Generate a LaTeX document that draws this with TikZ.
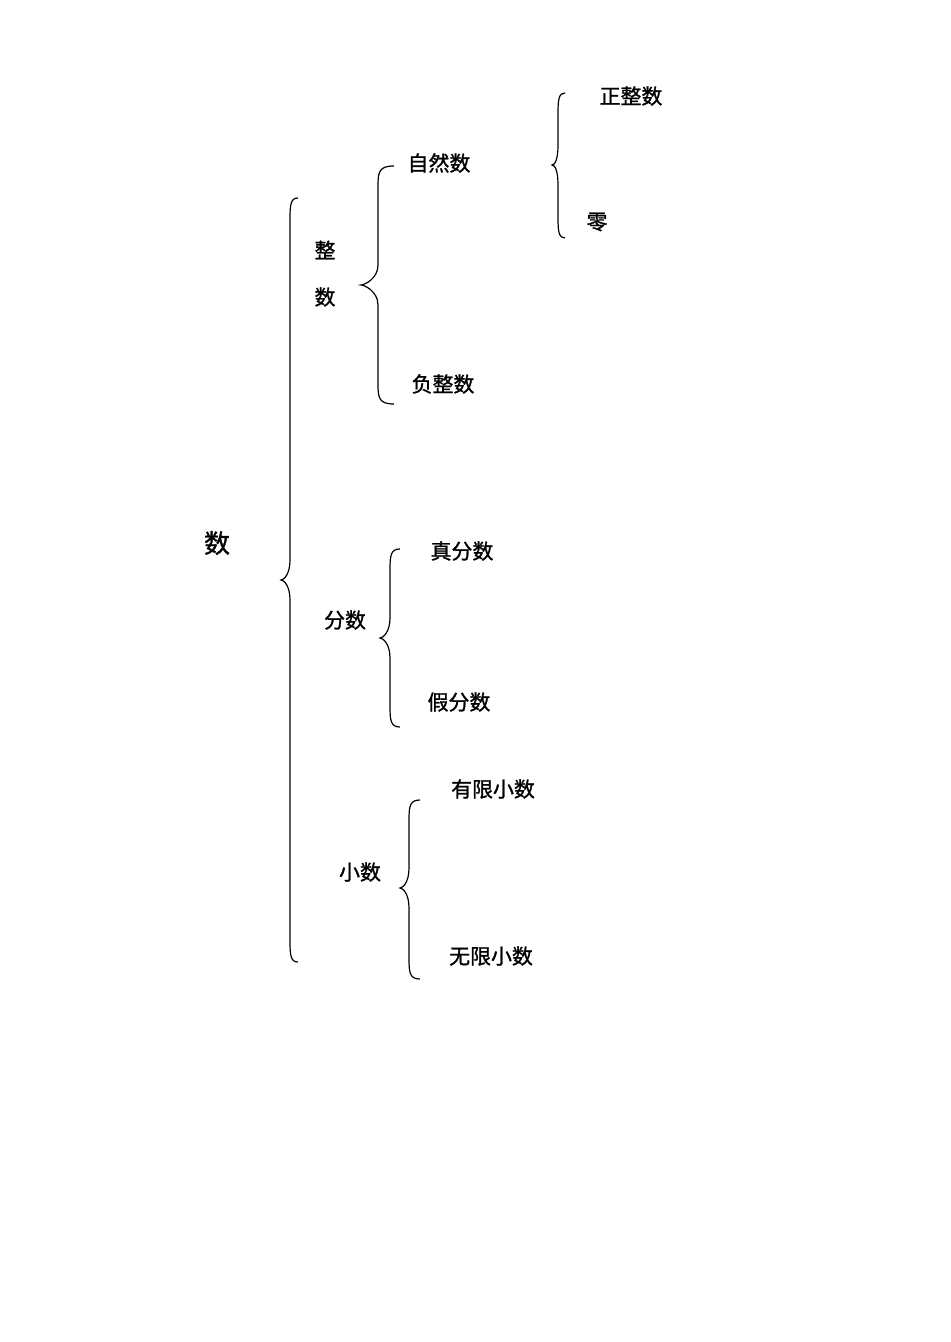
\documentclass[tikz,border=0pt]{standalone}
\usepackage{fontspec}
\newfontfamily\cjk[FakeBold=1.2]{Noto Sans CJK SC}
\tikzset{
  lbl/.style  = {font=\cjk\fontsize{21}{23}\selectfont, inner sep=0pt},
  root/.style = {font=\cjk\fontsize{26}{28}\selectfont, inner sep=0pt},
  brace/.style= {line width=1.2bp}
}
% left brace: #1 = x of the stem, #2 = top y, #3 = tip y, #4 = bottom y,
% #5 = width of the curls, #6 = depth of the tip
\newcommand\leftbrace[6]{%
  \draw[brace] (#1+#5,#2) .. controls (#1+1,#2) and (#1,#2+6) .. (#1,#2+20)
    -- (#1,#3-20) .. controls (#1,#3-6) and (#1-#6+3,#3) .. (#1-#6,#3)
       .. controls (#1-#6+3,#3) and (#1,#3+6) .. (#1,#3+20)
    -- (#1,#4-20) .. controls (#1,#4-6) and (#1+1,#4) .. (#1+#5,#4);}

\begin{document}
\begin{tikzpicture}[x=1bp,y=-1bp]
  \useasboundingbox (0,0) rectangle (950,1342);
  % braces
  \leftbrace{290}{198}{580}{962}{8}{9}
  \leftbrace{378}{166}{285}{404}{16}{17}
  \leftbrace{558}{93}{165}{238}{7}{6}
  \leftbrace{390}{549}{638}{727}{10}{10}
  \leftbrace{409}{800}{888}{979}{11}{9}
  % labels
  \node[root] (shu)     at (217,543) {数};
  \node[lbl]  (zheng)   at (325,250) {整};
  \node[lbl]  (zhengb)  at (325,297) {数};
  \node[lbl]  (ziran)   at (439,163) {自然数};
  \node[lbl]  (fuzheng) at (443,384) {负整数};
  \node[lbl]  (zhengz)  at (631,96)  {正整数};
  \node[lbl]  (ling)    at (597,222) {零};
  \node[lbl]  (fenshu)  at (345,620) {分数};
  \node[lbl]  (zhenfen) at (462,551) {真分数};
  \node[lbl]  (jiafen)  at (459,702) {假分数};
  \node[lbl]  (xiaoshu) at (360,872) {小数};
  \node[lbl]  (youxian) at (493,789) {有限小数};
  \node[lbl]  (wuxian)  at (491,956) {无限小数};
\end{tikzpicture}
\end{document}
